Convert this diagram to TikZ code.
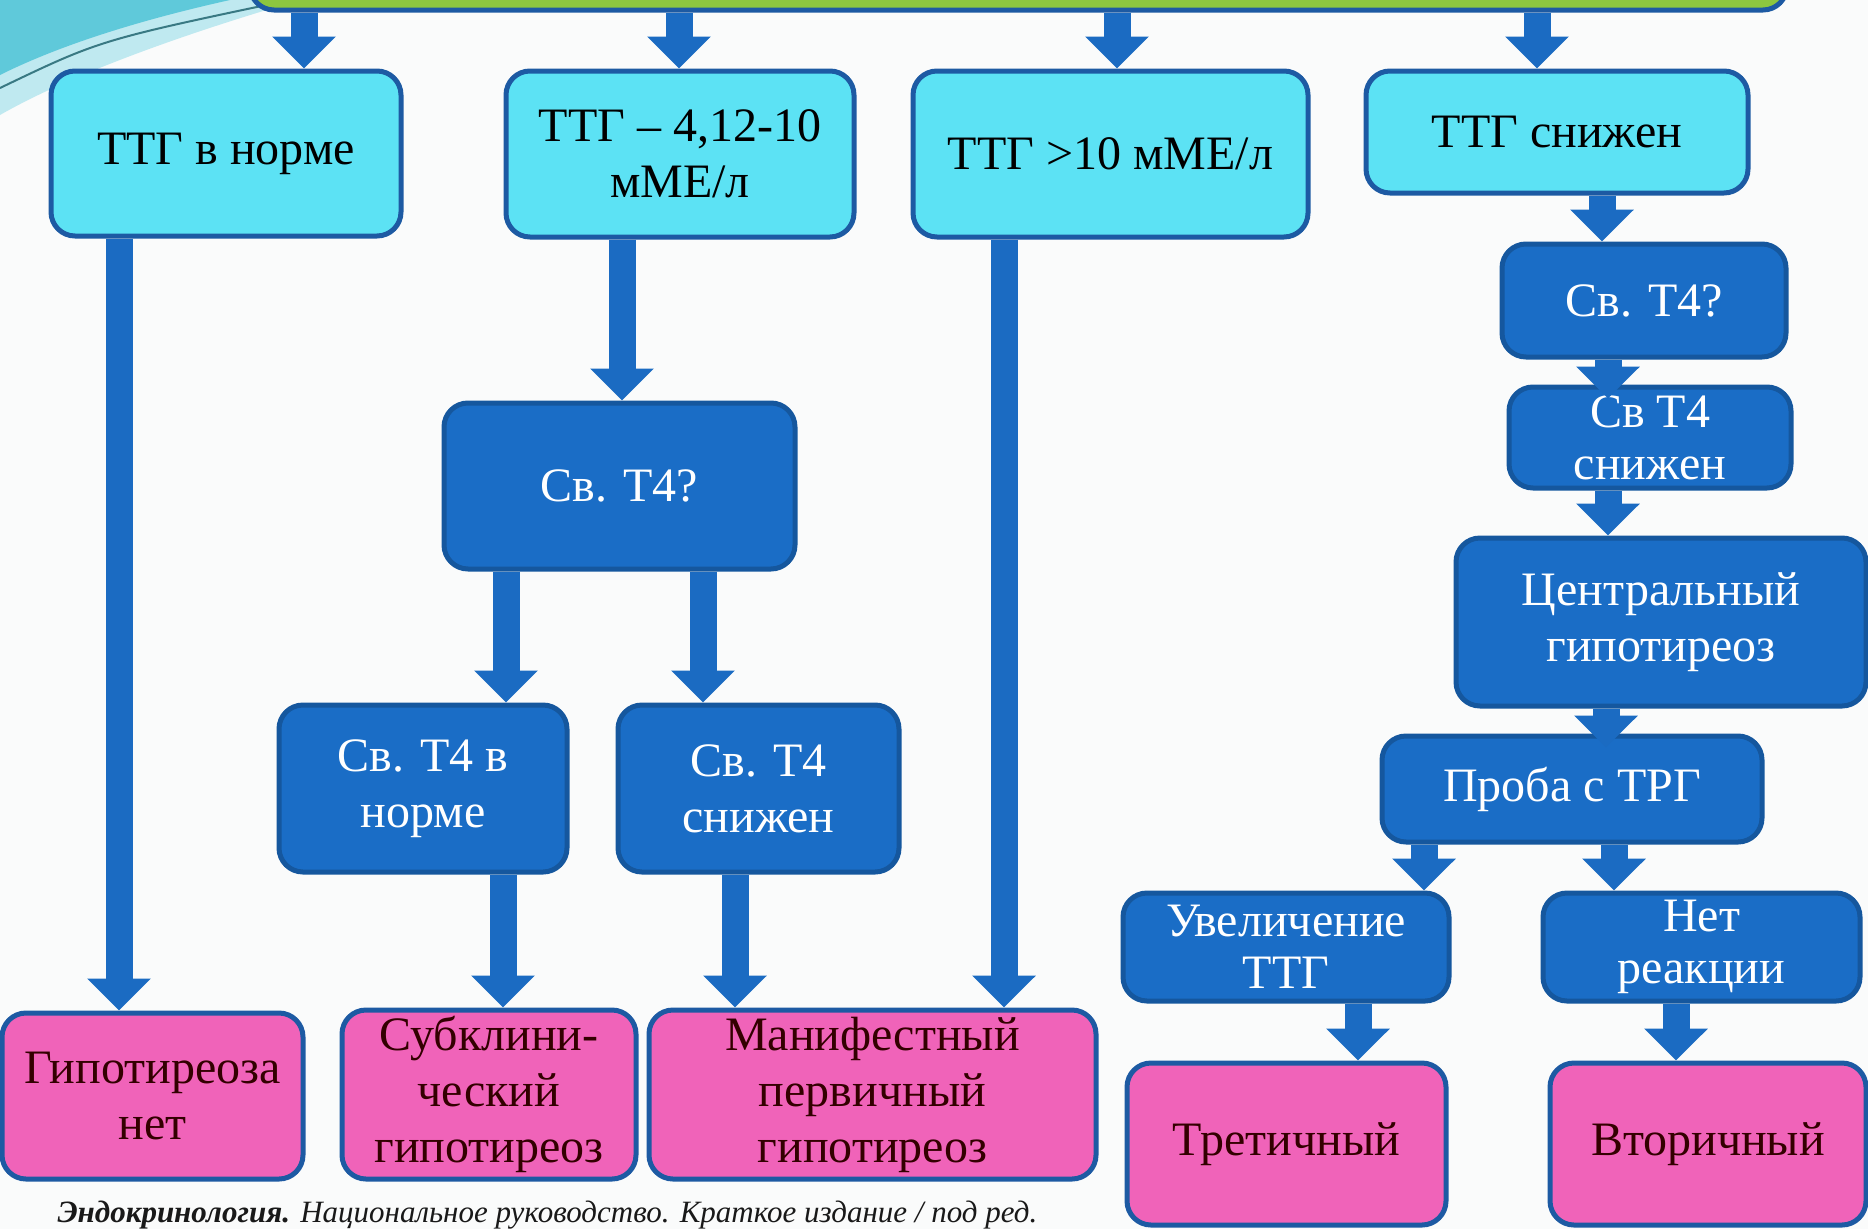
\documentclass[tikz,border=0pt]{standalone}
\usepackage{fontspec}
\setmainfont{Liberation Serif}
\usetikzlibrary{arrows.meta, positioning, shapes}
\definecolor{fon}{HTML}{FAFBFB}
\definecolor{goluboj}{HTML}{5CE2F4}
\definecolor{sinij}{HTML}{1A6DC6}
\definecolor{rozovyj}{HTML}{F063B9}
\definecolor{kraj}{HTML}{1D5AA3}
\definecolor{zelenyj}{HTML}{8CC63F}
\definecolor{strelka}{HTML}{1B6BC2}
\definecolor{volna}{HTML}{5FC9DA}
\tikzset{blok/.style={rectangle, rounded corners=24pt, draw=kraj, line width=5pt, align=center, inner sep=0pt, font=\fontsize{48}{56}\selectfont},
  svetlyj/.style={blok, fill=goluboj, text=black},
  temnyj/.style={blok, fill=sinij, draw=sinij!80!black, text=white},
  itog/.style={blok, fill=rozovyj, text=black!80!red},
  razmer/.style 2 args={minimum width=#1pt, minimum height=#2pt},
  strel/.style={draw=strelka, line width=27pt, -{Triangle[width=62pt, length=32pt]}}}

\begin{document}
\begin{tikzpicture}[x=1pt, y=-1pt]
        \fill[fon] (0,0) rectangle (1868,1229);
        \useasboundingbox (0,0) rectangle (1868,1229);
        % wave in the corner
        \fill[volna!40] (0,0) -- (300,0) .. controls (180,35) and (70,75) .. (0,115) -- cycle;
        \fill[volna] (0,0) -- (230,0) .. controls (140,20) and (60,45) .. (0,75) -- cycle;
        \draw[volna!60!black, line width=2pt] (0,88) .. controls (100,40) .. (290,0);

        \node[blok, fill=zelenyj, razmer={1537}{60}] (shapka) at (1018.5,-20) {};

        \node[svetlyj, razmer={350}{165}] (ttg-norma) at (226,153.5) {ТТГ в норме};
        \node[svetlyj, razmer={348}{166}] (ttg-sred) at (680,154) {ТТГ – 4,12-10\\мМЕ/л};
        \node[svetlyj, razmer={395}{166}] (ttg-vys) at (1110.5,154) {ТТГ >10 мМЕ/л};
        \node[svetlyj, razmer={382}{122}] (ttg-niz) at (1557,132) {ТТГ снижен};

        \node[temnyj, razmer={351}{166}] (t4-sred) at (619.5,486) {Св. Т4?};
        \node[temnyj, razmer={288}{167}] (t4-norma) at (423,788.5) {Св. Т4 в\\норме};
        \node[temnyj, razmer={281}{167}] (t4-niz) at (758.5,788.5) {Св. Т4\\снижен};

        \node[temnyj, razmer={284}{113}] (t4-prav) at (1644,300.5) {Св. Т4?};
        \node[temnyj, razmer={282}{101}, font=\fontsize{48}{52}\selectfont] (t4-prav-niz) at (1650,437.5) {Св Т4\\снижен};
        \node[temnyj, razmer={410}{168}] (centr) at (1661,622) {Центральный\\гипотиреоз};
        \node[temnyj, razmer={380}{106}] (proba) at (1572,789) {Проба с ТРГ};
        \node[temnyj, razmer={326}{108}, font=\fontsize{48}{52}\selectfont] (uvel) at (1286,947) {Увеличение\\ТТГ};
        \node[temnyj, razmer={317}{108}, font=\fontsize{48}{52}\selectfont] (net-reak) at (1701.5,947) {Нет\\реакции};

        \node[itog, razmer={301}{166}] (net-gipo) at (152.5,1096) {Гипотиреоза\\нет};
        \node[itog, razmer={294}{169}] (subklin) at (489,1094.5) {Субклини-\\ческий\\гипотиреоз};
        \node[itog, razmer={447}{169}] (manif) at (872.5,1094.5) {Манифестный\\первичный\\гипотиреоз};
        \node[itog, razmer={319}{162}] (tret) at (1286.5,1144) {Третичный};
        \node[itog, razmer={316}{162}] (vtor) at (1708,1144) {Вторичный};

        \node[anchor=base west, text=black!90, font=\fontsize{31}{36}\selectfont\itshape] (istochnik) at (54,1222)
            {\textbf{Эндокринология.} Национальное руководство. Краткое издание / под ред.};

        \foreach \a/\b/\x in {shapka/ttg-norma/304, shapka/ttg-sred/679, shapka/ttg-vys/1117, shapka/ttg-niz/1537,
            ttg-norma/net-gipo/119, ttg-sred/t4-sred/622, ttg-vys/manif/1004,
            t4-sred/t4-norma/506, t4-sred/t4-niz/703, t4-norma/subklin/503, t4-niz/manif/735,
            ttg-niz/t4-prav/1602, t4-prav-niz/centr/1608,
            proba/uvel/1424, proba/net-reak/1614, uvel/tret/1358, net-reak/vtor/1676}
            \draw[strel] (\a.south -| \x,0) -- (\b.north -| \x,0);
        % short ones reach into the box
        \draw[strel, shorten >=-14pt] (t4-prav.south -| 1608,0) -- (t4-prav-niz.north -| 1608,0);
        \draw[strel, shorten >=-14pt] (centr.south -| 1606,0) -- (proba.north -| 1606,0);
    \end{tikzpicture}
\end{document}
